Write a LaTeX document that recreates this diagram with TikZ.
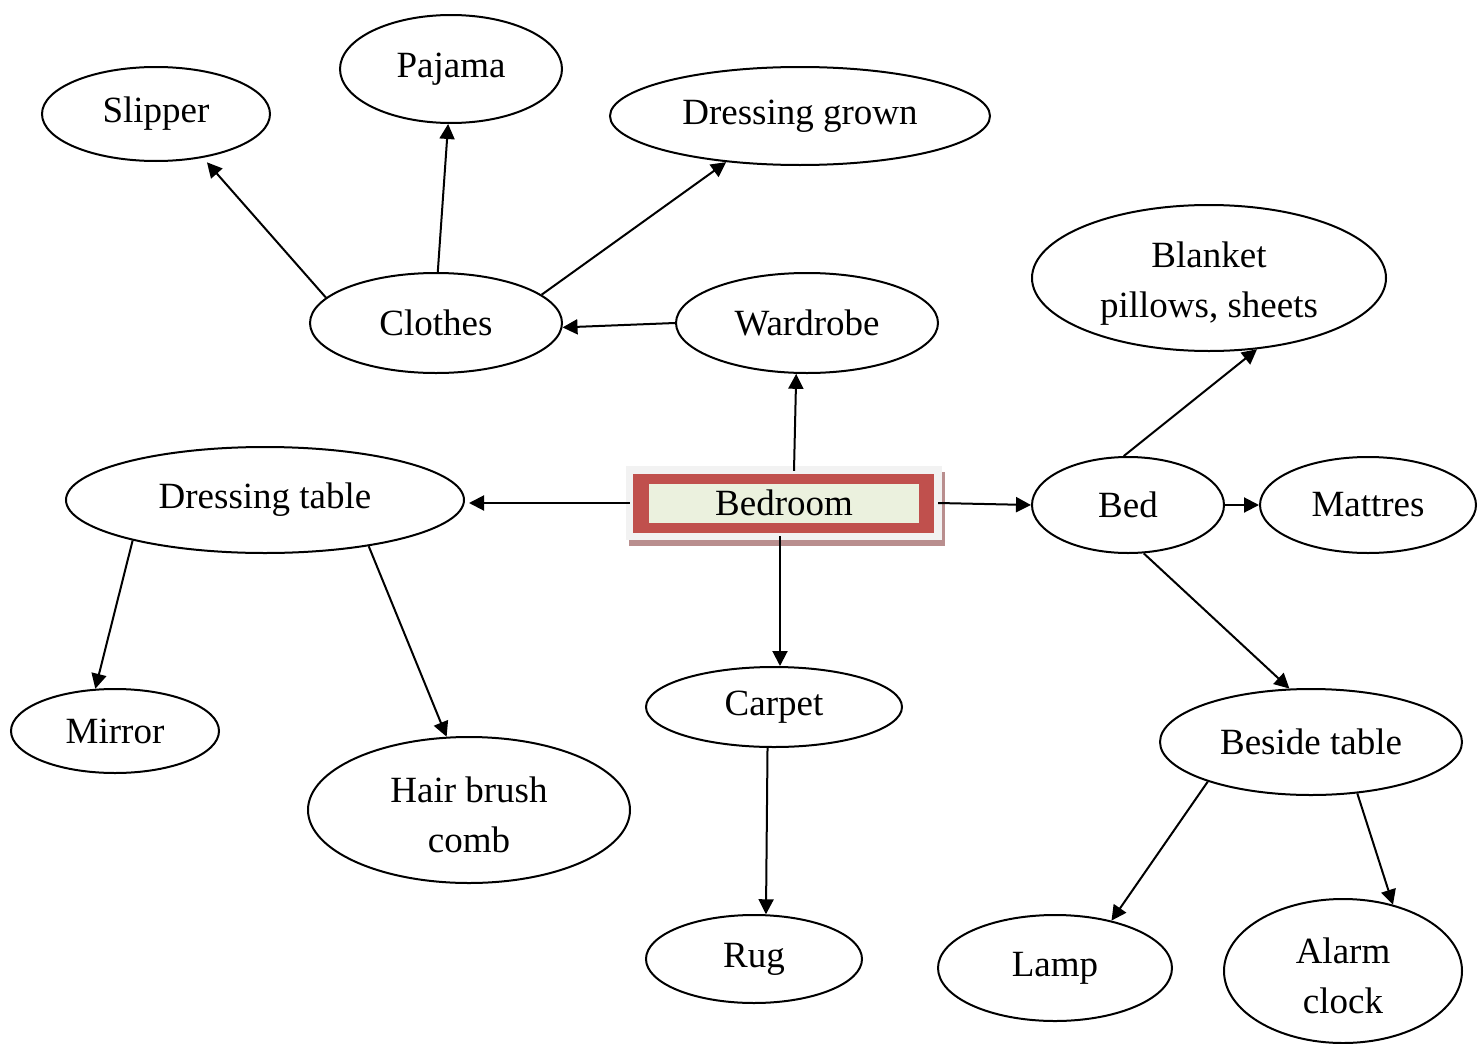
\documentclass[tikz,border=0pt]{standalone}
\usepackage{fontspec}
\setmainfont{Liberation Serif}
\usetikzlibrary{shapes.geometric,arrows.meta,shadows}
\definecolor{bedred}{RGB}{192,80,77}
\definecolor{bedgreen}{RGB}{235,241,222}
\definecolor{framegrey}{RGB}{242,242,242}
\definecolor{shadowc}{RGB}{185,142,142}
\begin{document}
\begin{tikzpicture}[x=1pt,y=-1pt,
  bubble/.style={ellipse,draw,line width=2pt,inner sep=0pt,align=center,
    font=\fontsize{37}{50}\selectfont},
  link/.style={-{Triangle[length=15pt,width=15pt]},line width=2pt}]
\useasboundingbox (0,0) rectangle (1478,1044);
\newcommand{\toplift}{\rule{0pt}{36pt}}

% central box
\node[fill=framegrey,minimum width=316pt,minimum height=74pt,inner sep=0pt,
  font=\fontsize{37}{44}\selectfont,
  drop shadow={shadow xshift=3pt,shadow yshift=-6pt,fill=shadowc,opacity=1},
  path picture={
    \fill[bedred] ([shift={(7pt,7pt)}]path picture bounding box.south west)
      rectangle ([shift={(-8pt,-8pt)}]path picture bounding box.north east);
    \fill[bedgreen] ([shift={(23pt,17pt)}]path picture bounding box.south west)
      rectangle ([shift={(-23pt,-18pt)}]path picture bounding box.north east);
  }] (bedroom) at (784,503) {Bedroom};

% clothes branch
\node[bubble,minimum width=228pt,minimum height=94pt] (slipper) at (156,114) {Slipper};
\node[bubble,minimum width=222pt,minimum height=108pt] (pajama) at (451,69) {Pajama};
\node[bubble,minimum width=380pt,minimum height=98pt] (gown) at (800,116) {Dressing grown};
\node[bubble,minimum width=252pt,minimum height=100pt] (clothes) at (436,323) {Clothes};
\node[bubble,minimum width=262pt,minimum height=100pt] (wardrobe) at (807,323) {Wardrobe};

% bed branch
\node[bubble,minimum width=354pt,minimum height=146pt] (blanket) at (1209,278) {\toplift Blanket\\pillows, sheets};
\node[bubble,minimum width=192pt,minimum height=96pt] (bed) at (1128,505) {Bed};
\node[bubble,minimum width=216pt,minimum height=96pt] (mattres) at (1368,505) {Mattres};
\node[bubble,minimum width=302pt,minimum height=106pt] (beside) at (1311,742) {Beside table};
\node[bubble,minimum width=234pt,minimum height=106pt] (lamp) at (1055,968) {Lamp};
\node[bubble,minimum width=238pt,minimum height=144pt] (alarm) at (1343,971) {\toplift Alarm\\clock};

% dressing table branch
\node[bubble,minimum width=398pt,minimum height=106pt] (dtable) at (265,500) {Dressing table};
\node[bubble,minimum width=208pt,minimum height=84pt] (mirror) at (115,731) {Mirror};
\node[bubble,minimum width=322pt,minimum height=146pt] (hair) at (469,810) {\toplift Hair brush\\comb};

% floor branch
\node[bubble,minimum width=256pt,minimum height=80pt] (carpet) at (774,707) {Carpet};
\node[bubble,minimum width=216pt,minimum height=88pt] (rug) at (754,959) {Rug};

% connectors
\draw[link,shorten >=6pt] (clothes.167) -- (slipper.-43);
\draw[link] (clothes.88) -- (pajama.-93);
\draw[link] (clothes.15) -- (gown.-148);
\draw[link] (wardrobe.180) -- (clothes.-2);
\draw[link] ([xshift=10pt,yshift=-5pt]bedroom.north) -- (wardrobe.-102);
\draw[link] ([xshift=4pt]bedroom.west) -- ([xshift=4pt]bedroom.west -| dtable.east);
\draw[link] ([xshift=-4pt]bedroom.east) -- (bed.west);
\draw[link] ([xshift=-4pt,yshift=4pt]bedroom.south) -- ([xshift=-4pt]bedroom.south |- carpet.north);
\draw[link] (bed.95) -- (blanket.-56);
\draw[link] (bed.east) -- (mattres.west);
\draw[link] (bed.-72) -- (beside.112);
\draw[link] (dtable.-163) -- (mirror.115);
\draw[link] (dtable.-24) -- (hair.107);
\draw[link] (carpet.-99) -- (rug.75);
\draw[link] (beside.-159) -- (lamp.40);
\draw[link] (beside.-48) -- (alarm.53);
\end{tikzpicture}
\end{document}
